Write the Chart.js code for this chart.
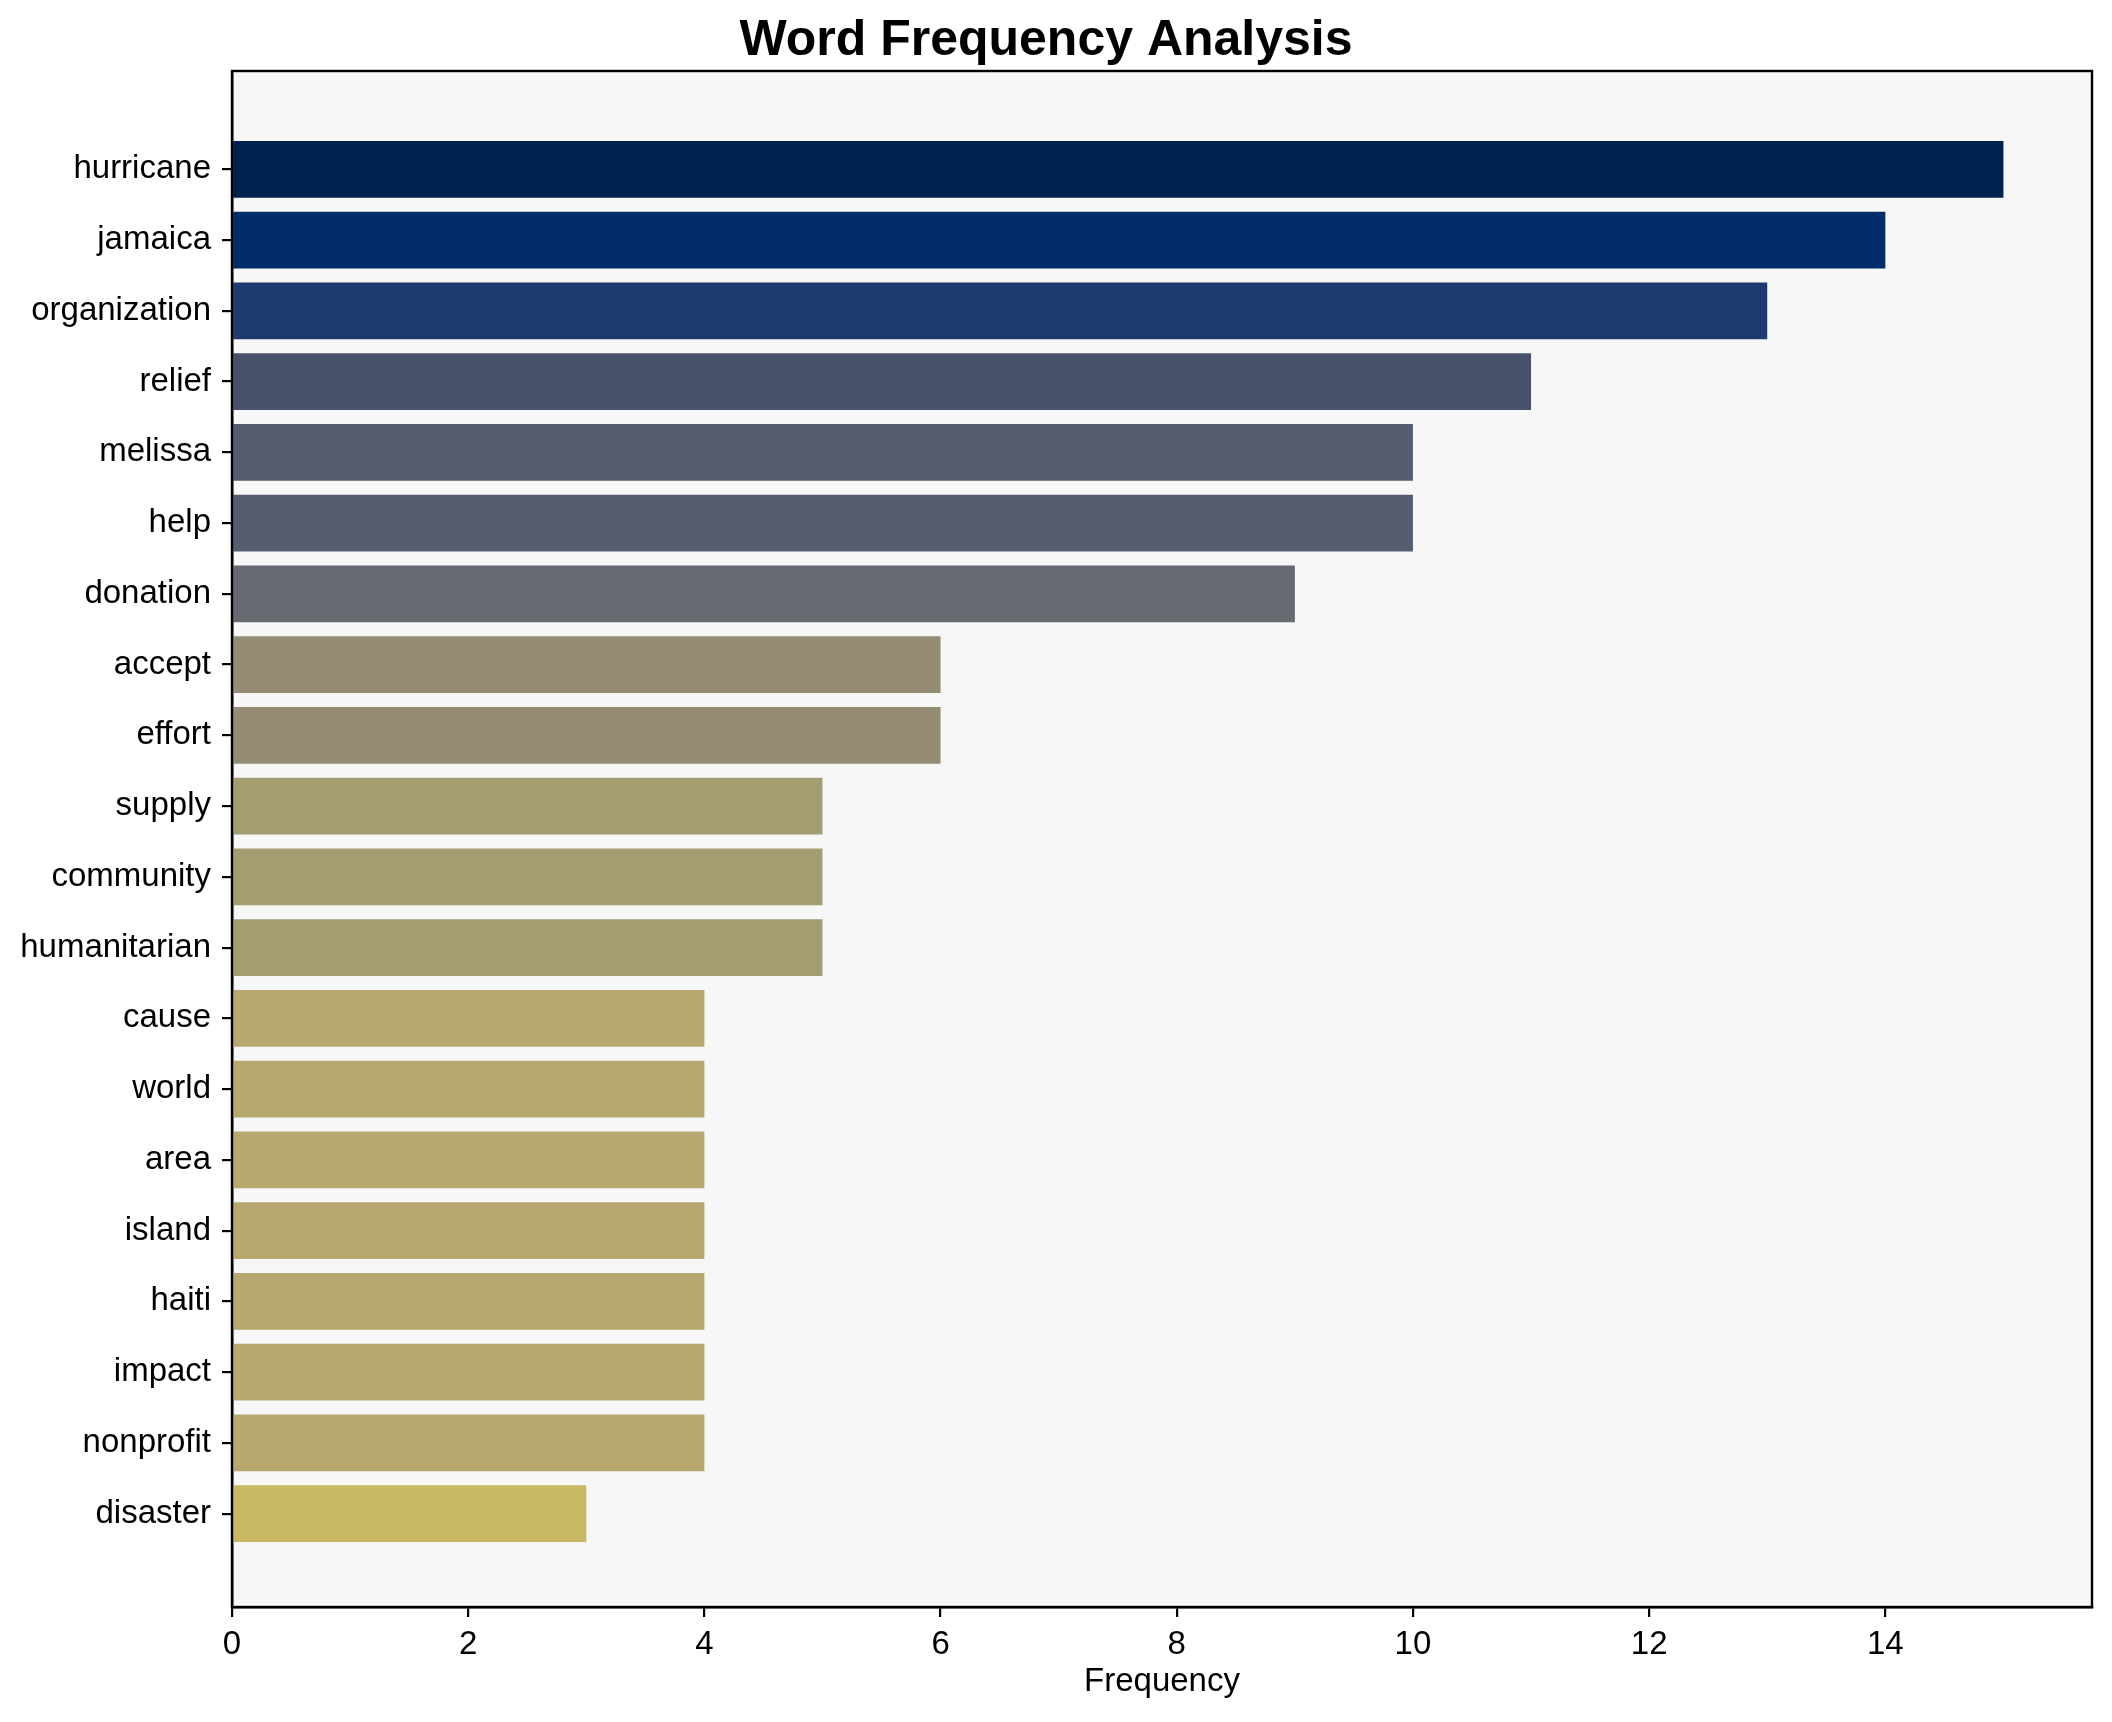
<!DOCTYPE html>
<html>
<head>
<meta charset="utf-8">
<script src="https://cdn.jsdelivr.net/npm/chart.js@4/dist/chart.umd.min.js"></script>
<style>
  html, body { margin: 0; padding: 0; background: #ffffff; }
  #wrap { width: 2112px; height: 1722px; }
</style>
</head>
<body>
<div id="wrap"><canvas id="c" width="2112" height="1722"></canvas></div>
<script>
const words = ["hurricane","jamaica","organization","relief","melissa","help","donation","accept","effort","supply","community","humanitarian","cause","world","area","island","haiti","impact","nonprofit","disaster"];
const frequencies = [15,14,13,11,10,10,9,6,6,5,5,5,4,4,4,4,4,4,4,3];
const xTicks = [0,2,4,6,8,10,12,14];
const barColors = ["#00224f","#002d69","#1e3a6e","#47516c","#575d6e","#575d6e","#666970","#958d73","#958d73","#a59d72","#a59d72","#a59d72","#b6a86e","#b6a86e","#b6a86e","#b6a86e","#b6a86e","#b6a86e","#b6a86e","#c8b864"];

const FONT = "'Liberation Sans', Arial, 'DejaVu Sans', sans-serif";

const framePlugin = {
  id: 'frame',
  beforeDraw(chart) {
    const {ctx, chartArea: a} = chart;
    ctx.save();
    ctx.fillStyle = '#f7f7f7';
    ctx.fillRect(a.left, a.top, a.right - a.left, a.bottom - a.top);
    ctx.restore();
  },
  afterDraw(chart) {
    const {ctx, chartArea: a} = chart;
    ctx.save();
    ctx.strokeStyle = '#000';
    ctx.lineWidth = 2.4;
    ctx.strokeRect(a.left, a.top, a.right - a.left, a.bottom - a.top);
    ctx.restore();
  }
};

new Chart(document.getElementById('c'), {
  type: 'bar',
  data: {
    datasets: [{
      data: words.map((w, i) => ({ x: frequencies[i], y: i })),
      backgroundColor: barColors,
      borderWidth: 0,
      barPercentage: 1.0,
      categoryPercentage: 0.8
    }]
  },
  options: {
    indexAxis: 'y',
    responsive: false,
    animation: false,
    devicePixelRatio: 1,
    layout: { padding: { left: 0, right: 20, top: 0, bottom: 0 } },
    plugins: {
      legend: { display: false },
      tooltip: { enabled: false },
      title: {
        display: true,
        text: 'Word Frequency Analysis',
        color: '#000',
        font: { family: FONT, size: 50, weight: 'bold' },
        padding: { top: 11, bottom: 0 }
      }
    },
    scales: {
      x: {
        type: 'linear',
        position: 'bottom',
        min: 0,
        max: 15.75,
        offset: false,
        afterBuildTicks: (s) => { s.ticks = xTicks.map(v => ({ value: v })); },
        afterFit: (s) => { s.height = 115; },
        ticks: {
          color: '#000',
          font: { family: FONT, size: 33 },
          padding: 8,
          maxRotation: 0,
          autoSkip: false
        },
        grid: {
          offset: false,
          drawOnChartArea: false,
          drawTicks: true,
          tickLength: 10,
          color: '#000',
          lineWidth: 2.2
        },
        border: { display: true, color: '#000', width: 2.4 },
        title: {
          display: true,
          text: 'Frequency',
          color: '#000',
          font: { family: FONT, size: 33 },
          padding: { top: 0, bottom: 20 }
        }
      },
      y: {
        type: 'linear',
        reverse: true,
        min: -1.39,
        max: 20.32,
        offset: false,
        afterBuildTicks: (s) => { s.ticks = words.map((w, i) => ({ value: i })); },
        afterFit: (s) => { s.width = 232; },
        ticks: {
          color: '#000',
          font: { family: FONT, size: 33 },
          padding: 11,
          autoSkip: false,
          callback: (v) => words[v]
        },
        grid: {
          offset: false,
          drawOnChartArea: false,
          drawTicks: true,
          tickLength: 10,
          color: '#000',
          lineWidth: 2.2
        },
        border: { display: true, color: '#000', width: 2.4 }
      }
    }
  },
  plugins: [framePlugin]
});
</script>
</body>
</html>
